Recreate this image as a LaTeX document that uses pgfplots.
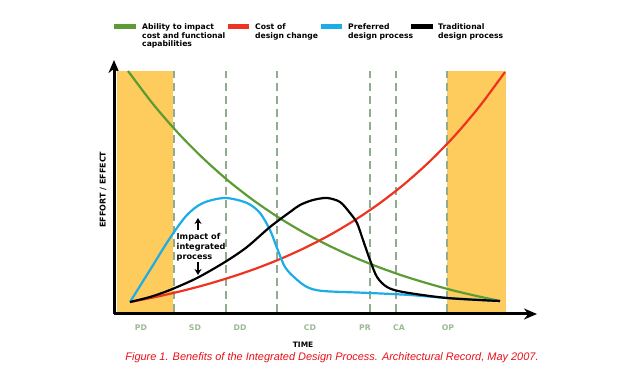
\documentclass[border=0pt]{standalone}
\usepackage{fontspec}
\setmainfont{Liberation Sans}
\newfontfamily\lab{DejaVu Sans}
\usepackage{pgfplots}
\pgfplotsset{compat=1.18}
\usetikzlibrary{arrows.meta}
\definecolor{cgreen}{RGB}{92,156,52}
\definecolor{cred}{RGB}{238,52,32}
\definecolor{cblue}{RGB}{28,172,232}
\definecolor{cband}{RGB}{253,204,92}
\definecolor{cdash}{RGB}{143,172,143}
\definecolor{ctick}{RGB}{156,184,148}
\definecolor{ccap}{RGB}{232,16,24}
\begin{document}
\begin{tikzpicture}
\path[use as bounding box] (0,0) rectangle (624bp,377bp);
\begin{axis}[
  at={(114bp,63bp)}, anchor=south west,
  scale only axis, width=423bp, height=254bp,
  xmin=114, xmax=537, ymin=63, ymax=317,
  axis lines=left,
  axis line style={line width=3bp, -{Stealth[length=13bp,width=11bp]}},
  clip=false,
  ytick=\empty,
  xtick={141,195,240,310,365,399,448},
  xticklabels={PD,SD,DD,CD,PR,CA,OP},
  major tick length=0pt,
  xticklabel style={anchor=center, yshift=-14bp, text=ctick, font=\lab\bfseries\fontsize{7.8}{8}\selectfont},
  xlabel={TIME},
  xlabel style={at={(axis description cs:0.447,-0.122)}, anchor=center, font=\lab\bfseries\fontsize{7.5}{8}\selectfont},
  ylabel={EFFORT / EFFECT},
  ylabel style={at={(axis description cs:-0.026,0.49)}, anchor=center, font=\lab\bfseries\fontsize{8}{8}\selectfont},
]
% bands
\fill[cband] (axis cs:117,65) rectangle (axis cs:173,306);
\fill[cband] (axis cs:447,65) rectangle (axis cs:506,306);
% dashed phase lines
\pgfplotsinvokeforeach{174,226,277,370,396,447}{
  \draw[cdash, line width=2.5bp, dash pattern=on 8bp off 5bp] (axis cs:#1,65) -- (axis cs:#1,306);
}
% Green: ability to impact
\addplot[cgreen, line width=2.2bp, smooth, tension=0.5] coordinates {
(128,306) (153,273) (178,244.1) (203,218.8) (228,196.5) (253,177) (278,159.9) (303,144.9) (328,131.8) (353,120.2) (378,110.1) (403,101.2) (428,93.5) (453,86.6) (478,80.7) (500,76)};
% Red: cost of design change
\addplot[cred, line width=2.2bp, smooth, tension=0.5] coordinates {
(130,75) (155,79.9) (180,85.6) (205,92.1) (230,99.6) (255,108.1) (280,117.9) (305,129.2) (330,142.1) (355,157) (380,174) (405,193.5) (430,215.9) (455,241.6) (480,271.2) (505,305)};
% Blue: preferred
\addplot[cblue, line width=2.2bp, smooth, tension=0.5] coordinates {
(130,75) (150,107) (170,139) (187,162) (203,174) (225,179) (247,174) (260,164) (270,147) (277,129) (285,110) (295,99) (307,90) (323,86) (370,84) (410,82) (447,79) (500,76)};
% Black: traditional
\addplot[black, line width=2.2bp, smooth, tension=0.5] coordinates {
(130,75) (150,80) (170,87) (197,99) (225,115) (247,130) (270,150) (290,165) (300,172) (313,177) (327,179) (340,175) (350,164) (357,154) (363,137) (370,117) (377,100) (387,90) (403,85) (447,79) (500,76)};
% annotation
\draw[line width=1.8bp, -{Stealth[length=6bp,width=7bp]}] (axis cs:198,147) -- (axis cs:198,159);
\draw[line width=1.8bp, -{Stealth[length=6bp,width=7bp]}] (axis cs:198,115) -- (axis cs:198,102);
\node[anchor=west, align=left, inner sep=0pt, font=\lab\bfseries\fontsize{8.2}{9.8}\selectfont] at (axis cs:176.5,130) {Impact of\\integrated\\process};
\end{axis}
% legend
\begin{scope}[font=\lab\bfseries\fontsize{7.7}{8.6}\selectfont]
\fill[cgreen] (114bp,347.5bp) rectangle (136bp,352.5bp);
\node[anchor=north west, align=left, inner sep=0pt] at (142bp,353.5bp) {Ability to impact\\cost and functional\\capabilities};
\fill[cred] (228bp,347.5bp) rectangle (249bp,352.5bp);
\node[anchor=north west, align=left, inner sep=0pt] at (255bp,353.5bp) {Cost of\\design change};
\fill[cblue] (321bp,347.5bp) rectangle (342bp,352.5bp);
\node[anchor=north west, align=left, inner sep=0pt] at (348bp,353.5bp) {Preferred\\design process};
\fill[black] (411bp,347.5bp) rectangle (433bp,352.5bp);
\node[anchor=north west, align=left, inner sep=0pt] at (438bp,353.5bp) {Traditional\\design process};
\end{scope}
% caption
\node[anchor=center, text=ccap, font=\itshape\fontsize{11}{13}\selectfont] at (332bp,19.5bp) {Figure 1. Benefits of the Integrated Design Process. Architectural Record, May 2007.};
\end{tikzpicture}
\end{document}
